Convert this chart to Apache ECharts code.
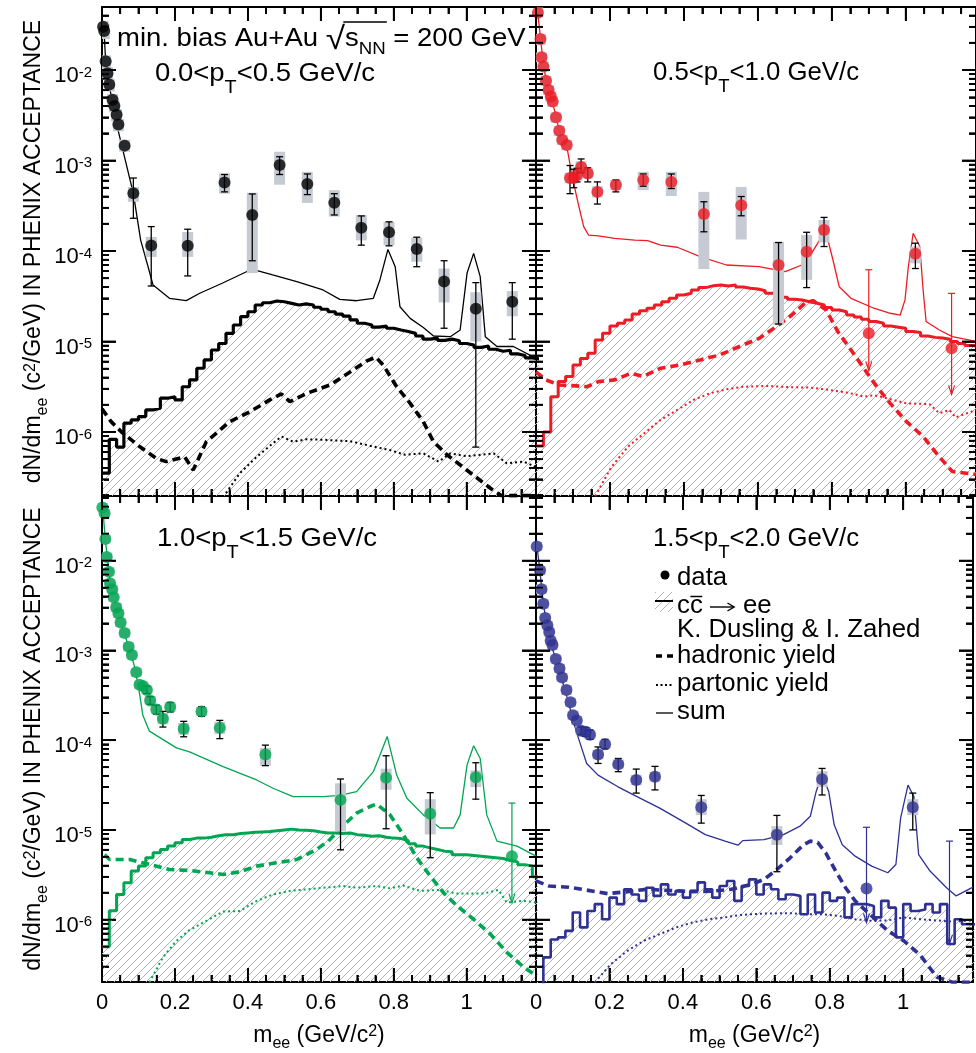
<!DOCTYPE html>
<html>
<head>
<meta charset="utf-8">
<script src="https://cdn.jsdelivr.net/npm/echarts@6.0.0/dist/echarts.min.js"></script>
<style>
html,body{margin:0;padding:0;background:#fff;}
#chart{width:976px;height:1053px;}
</style>
</head>
<body>
<div id="chart"></div>
<script>
// ---------------------------------------------------------------
// Dielectron mass spectra in four pT bins (min. bias Au+Au, 200 GeV)
// A: 0.0<pT<0.5, B: 0.5<pT<1.0, C: 1.0<pT<1.5, D: 1.5<pT<2.0 GeV/c
// ---------------------------------------------------------------

// histogram bin left edges (GeV/c^2), 0.02 wide
const binEdges = [0,0.02,0.04,0.06,0.08,0.10,0.12,0.14,0.16,0.18,0.20,0.22,0.24,0.26,0.28,0.30,0.32,0.34,0.36,0.38,
  0.40,0.42,0.44,0.46,0.48,0.50,0.52,0.54,0.56,0.58,0.60,0.62,0.64,0.66,0.68,0.70,0.72,0.74,0.76,0.78,
  0.80,0.82,0.84,0.86,0.88,0.90,0.92,0.94,0.96,0.98,1.00,1.02,1.04,1.06,1.08,1.10,1.12,1.14,1.16,1.18];
const binLastEdge = 1.20;

// ---------- panel A : 0.0<pT<0.5 ----------
const ptsA = [[0.003,0.030],[0.006,0.027],[0.010,0.0125],[0.015,0.0092],[0.020,0.0069],[0.029,0.0047],[0.034,0.0040],[0.040,0.0032],
  [0.045,0.0025],[0.062,0.00146],[0.086,4.35e-4],[0.135,1.15e-4],[0.235,1.14e-4],[0.336,5.7e-4],[0.412,2.5e-4],[0.487,8.9e-4],
  [0.563,5.5e-4],[0.637,3.42e-4],[0.711,1.81e-4],[0.787,1.61e-4],[0.863,1.05e-4],[0.938,4.6e-5],[1.025,2.3e-5],[1.125,2.75e-5]];
const statA = [null,null,null,null,null,null,null,null,null,null,[2.3e-4,6.4e-4],[4.1e-5,1.86e-4],[5.3e-5,1.74e-4],[4.5e-4,7.0e-4],
  [7.8e-5,4.27e-4],[7.0e-4,1.10e-3],[4.2e-4,7.1e-4],[2.5e-4,4.3e-4],[1.16e-4,2.44e-4],[1.14e-4,2.1e-4],[6.7e-5,1.42e-4],
  [1.4e-5,7.8e-5],[6.8e-7,4.47e-5],[1.06e-5,4.47e-5]];
const sysA = [[0.026,0.035],[0.022,0.032],[0.0105,0.0145],[0.0078,0.0108],[0.0058,0.0080],[0.0040,0.0054],[0.0034,0.0046],
  [0.0027,0.0037],[0.0021,0.0029],[0.00125,0.0017],[3.5e-4,5.1e-4],[8.6e-5,1.43e-4],[8.6e-5,1.62e-4],[4.3e-4,7.2e-4],
  [5.7e-5,4.4e-4],[5.4e-4,1.25e-3],[3.4e-4,7.5e-4],[2.4e-4,4.7e-4],[1.31e-4,2.5e-4],[1.16e-4,2.1e-4],[7.6e-5,1.4e-4],
  [2.7e-5,6.4e-5],[1.0e-5,3.5e-5],[1.9e-5,3.6e-5]];
const arrowsA = [];
const histA = [3.5e-7,8.3e-7,6.8e-7,1.25e-6,1.36e-6,1.48e-6,1.75e-6,1.83e-6,2.36e-6,2.45e-6,2.26e-6,3.16e-6,3.76e-6,5.06e-6,
  6.25e-6,8.05e-6,9.5e-6,1.23e-5,1.52e-5,1.88e-5,2.13e-5,2.53e-5,2.68e-5,2.8e-5,2.75e-5,2.64e-5,2.53e-5,2.6e-5,2.53e-5,2.39e-5,
  2.27e-5,2.13e-5,2.01e-5,1.91e-5,1.73e-5,1.59e-5,1.52e-5,1.44e-5,1.48e-5,1.40e-5,1.34e-5,1.29e-5,1.23e-5,1.15e-5,1.06e-5,
  1.09e-5,1.03e-5,1.06e-5,1.02e-5,9.5e-6,9.1e-6,8.6e-6,8.9e-6,8.2e-6,7.8e-6,8.0e-6,7.3e-6,7.0e-6,6.6e-6,6.4e-6];
const sumA = [[0.005,0.030],[0.010,0.0125],[0.020,0.0068],[0.030,0.0040],[0.045,0.00208],[0.086,4.3e-4],[0.106,1.32e-4],
  [0.125,7.0e-5],[0.140,4.2e-5],[0.185,3.0e-5],[0.231,2.83e-5],[0.268,3.41e-5],[0.331,4.43e-5],[0.396,5.9e-5],[0.413,6.28e-5],
  [0.468,5.43e-5],[0.534,4.58e-5],[0.606,3.71e-5],[0.652,2.92e-5],[0.698,2.82e-5],[0.744,3.0e-5],[0.762,4.79e-5],[0.784,1.04e-4],
  [0.804,6.7e-5],[0.817,2.42e-5],[0.845,1.80e-5],[0.881,1.43e-5],[0.909,1.15e-5],[0.955,1.13e-5],[0.982,1.34e-5],[1.001,5.7e-5],
  [1.019,9.4e-5],[1.037,5.2e-5],[1.051,1.13e-5],[1.083,8.8e-6],[1.128,8.8e-6],[1.19,6.5e-6]];
const hadA = [[0.0,1.8e-6],[0.025,1.30e-6],[0.057,9.7e-7],[0.103,6.9e-7],[0.149,5.1e-7],[0.176,4.7e-7],[0.227,5.3e-7],
  [0.250,3.8e-7],[0.286,7.8e-7],[0.350,1.30e-6],[0.405,1.67e-6],[0.460,2.26e-6],[0.492,2.63e-6],[0.515,2.16e-6],[0.561,2.67e-6],
  [0.625,3.3e-6],[0.680,4.6e-6],[0.726,6.1e-6],[0.751,6.7e-6],[0.771,5.5e-6],[0.808,3.16e-6],[0.845,2.07e-6],[0.881,1.30e-6],
  [0.909,7.8e-7],[0.946,5.6e-7],[1.0,3.8e-7],[1.065,2.39e-7],[1.095,1.98e-7],[1.19,1.98e-7]];
const partA = [[0.332,1.9e-7],[0.378,3.5e-7],[0.424,5.3e-7],[0.469,7.5e-7],[0.492,8.9e-7],[0.524,7.8e-7],[0.561,8.3e-7],
  [0.607,8.2e-7],[0.680,7.9e-7],[0.744,6.9e-7],[0.790,6.3e-7],[0.831,5.6e-7],[0.881,5.8e-7],[0.923,4.7e-7],[0.955,5.8e-7],
  [1.0,5.4e-7],[1.074,5.8e-7],[1.11,4.5e-7],[1.156,4.7e-7],[1.19,4.1e-7]];

// ---------- panel B : 0.5<pT<1.0 ----------
const ptsB = [[0.005,0.043],[0.012,0.022],[0.015,0.0138],[0.020,0.0109],[0.027,0.0076],[0.034,0.0060],[0.040,0.0051],[0.045,0.0045],
  [0.054,0.0030],[0.063,0.00213],[0.071,0.00169],[0.083,0.00148],[0.092,6.4e-4],[0.102,6.4e-4],[0.111,6.9e-4],[0.122,8.5e-4],
  [0.140,7.2e-4],[0.166,4.5e-4],[0.216,5.35e-4],[0.290,6.1e-4],[0.366,5.8e-4],[0.454,2.56e-4],[0.555,3.2e-4],[0.656,7.0e-5],
  [0.732,9.8e-5],[0.779,1.71e-4],[0.900,1.23e-5],[1.026,9.3e-5],[1.124,8.4e-6]];
const statB = [null,null,null,null,null,null,null,null,null,null,null,null,[4.3e-4,8.8e-4],[5.0e-4,8.0e-4],[5.8e-4,8.2e-4],
  [7.3e-4,1.04e-3],[5.8e-4,8.3e-4],[3.3e-4,5.8e-4],[4.5e-4,6.1e-4],[5.2e-4,7.1e-4],[4.9e-4,7.1e-4],[1.63e-4,3.5e-4],
  [2.45e-4,4.0e-4],[1.56e-5,1.24e-4],[3.94e-5,1.61e-4],[1.12e-4,2.35e-4],null,[6.4e-5,1.22e-4],null];
const sysB = [[0.038,0.049],[0.019,0.025],[0.0122,0.0156],[0.0096,0.0124],[0.0067,0.0086],[0.0053,0.0068],[0.0045,0.0058],
  [0.0039,0.0051],[0.0026,0.0034],[0.00187,0.00242],[0.00148,0.00192],[0.0013,0.00168],[5.6e-4,7.3e-4],[5.6e-4,7.3e-4],
  [6.0e-4,7.9e-4],[7.4e-4,9.8e-4],[6.3e-4,8.2e-4],[3.9e-4,5.2e-4],[4.7e-4,6.1e-4],[4.7e-4,7.5e-4],[4.05e-4,7.5e-4],
  [6.3e-5,4.5e-4],[1.34e-4,5.1e-4],[1.53e-5,1.26e-4],[4.8e-5,1.5e-4],[1.24e-4,2.2e-4],null,[7.3e-5,1.12e-4],null];
const arrowsB = [[0.900,6.2e-5,4.8e-6],[1.124,3.4e-5,2.6e-6]];
const histB = [7e-7,1.0e-6,2.45e-6,3.6e-6,4.1e-6,5.5e-6,6.5e-6,7.4e-6,1.04e-5,1.23e-5,1.48e-5,1.59e-5,1.73e-5,2.01e-5,2.19e-5,
  2.33e-5,2.53e-5,2.75e-5,3.0e-5,3.26e-5,3.41e-5,3.7e-5,3.94e-5,4.14e-5,4.21e-5,4.1e-5,4.21e-5,4.0e-5,3.88e-5,3.8e-5,3.64e-5,
  3.41e-5,3.26e-5,3.08e-5,2.92e-5,2.87e-5,2.75e-5,2.64e-5,2.53e-5,2.37e-5,2.23e-5,2.13e-5,1.96e-5,1.86e-5,1.76e-5,1.66e-5,
  1.59e-5,1.48e-5,1.44e-5,1.40e-5,1.29e-5,1.26e-5,1.15e-5,1.11e-5,1.09e-5,1.06e-5,1.0e-5,9.5e-6,9.0e-6,8.8e-6];
const sumB = [[0.003,0.050],[0.010,0.027],[0.020,0.0115],[0.030,0.0068],[0.040,0.0050],[0.050,0.0036],[0.060,0.0024],
  [0.070,0.0017],[0.083,0.00145],[0.098,6.6e-4],[0.116,3.1e-4],[0.129,1.86e-4],[0.142,1.50e-4],[0.169,1.47e-4],[0.213,1.38e-4],
  [0.267,1.32e-4],[0.302,1.30e-4],[0.337,1.16e-4],[0.382,1.10e-4],[0.444,8.65e-5],[0.515,7.0e-5],[0.603,6.7e-5],[0.674,5.9e-5],
  [0.719,7.0e-5],[0.745,9.4e-5],[0.767,1.32e-4],[0.779,1.94e-4],[0.803,8.0e-5],[0.820,4.03e-5],[0.852,3.0e-5],[0.914,2.33e-5],
  [0.958,2.05e-5],[0.985,1.96e-5],[0.998,2.88e-5],[1.007,6.7e-5],[1.020,1.57e-4],[1.038,1.12e-4],[1.047,3.7e-5],[1.055,1.66e-5],
  [1.091,1.34e-5],[1.126,1.13e-5],[1.19,1.0e-5]];
const hadB = [[0.0,4.6e-6],[0.027,3.76e-6],[0.063,3.3e-6],[0.098,3.25e-6],[0.138,3.16e-6],[0.169,3.6e-6],[0.213,3.76e-6],
  [0.257,4.45e-6],[0.289,4.1e-6],[0.337,5.06e-6],[0.390,5.5e-6],[0.444,6.25e-6],[0.497,7.1e-6],[0.550,8.8e-6],[0.603,1.08e-5],
  [0.656,1.52e-5],[0.692,1.96e-5],[0.727,2.64e-5],[0.749,2.83e-5],[0.785,2.23e-5],[0.816,1.29e-5],[0.852,8.05e-6],[0.896,4.45e-6],
  [0.922,3.16e-6],[0.958,2.07e-6],[1.002,1.30e-6],[1.047,8.9e-7],[1.091,5.3e-7],[1.126,3.65e-7],[1.19,3.4e-7]];
const partB = [[0.160,1.95e-7],[0.204,4.1e-7],[0.249,6.9e-7],[0.293,9.7e-7],[0.337,1.36e-6],[0.382,1.75e-6],[0.426,2.26e-6],
  [0.470,2.67e-6],[0.515,2.96e-6],[0.559,3.16e-6],[0.621,3.22e-6],[0.692,3.12e-6],[0.736,3.1e-6],[0.781,2.96e-6],[0.825,2.79e-6],
  [0.860,2.63e-6],[0.887,2.45e-6],[0.914,2.55e-6],[0.949,2.36e-6],[1.002,2.07e-6],[1.064,2.03e-6],[1.091,1.61e-6],[1.118,1.75e-6],
  [1.135,1.45e-6],[1.19,1.75e-6]];

// ---------- panel C : 1.0<pT<1.5 ----------
const ptsC = [[0.001,0.039],[0.007,0.0337],[0.009,0.0174],[0.013,0.011],[0.019,0.0075],[0.022,0.0056],[0.028,0.0048],[0.032,0.0039],
  [0.039,0.0030],[0.045,0.0026],[0.051,0.00204],[0.062,0.00156],[0.073,0.0011],[0.082,8.9e-4],[0.094,5.7e-4],[0.103,4.13e-4],
  [0.112,4.0e-4],[0.123,3.63e-4],[0.132,2.77e-4],[0.149,2.2e-4],[0.167,1.73e-4],[0.187,2.34e-4],[0.224,1.34e-4],[0.273,2.09e-4],
  [0.323,1.37e-4],[0.448,6.9e-5],[0.654,2.16e-5],[0.779,3.82e-5],[0.900,1.51e-5],[1.025,3.85e-5],[1.124,5.1e-6]];
const statC = [null,null,null,null,null,null,null,null,null,null,null,null,null,null,null,null,null,[3.3e-4,4.0e-4],[2.5e-4,3.05e-4],
  [1.95e-4,2.45e-4],[1.40e-4,2.09e-4],[2.06e-4,2.63e-4],[1.09e-4,1.62e-4],[1.84e-4,2.36e-4],[1.04e-4,1.66e-4],[5.2e-5,8.8e-5],
  [6.0e-6,3.69e-5],[1.03e-5,6.7e-5],[4.9e-6,2.6e-5],[2.2e-5,5.6e-5],null];
const sysC = [[0.035,0.044],[0.030,0.038],[0.0155,0.0195],[0.0098,0.0123],[0.0067,0.0084],[0.0050,0.0062],[0.0043,0.0054],
  [0.0035,0.0043],[0.0027,0.0034],[0.0023,0.0029],[0.00182,0.00228],[0.00139,0.00175],[0.00098,0.00123],[7.9e-4,1.0e-3],
  [5.1e-4,6.4e-4],[3.7e-4,4.6e-4],[3.6e-4,4.5e-4],[3.25e-4,4.05e-4],[2.5e-4,3.1e-4],[1.97e-4,2.45e-4],[1.5e-4,2.0e-4],
  [2.05e-4,2.65e-4],[1.15e-4,1.55e-4],[1.85e-4,2.35e-4],[1.17e-4,1.6e-4],[5.2e-5,8.2e-5],[9.6e-6,3.3e-5],[2.8e-5,4.8e-5],
  [8.9e-6,2.2e-5],[3.0e-5,4.6e-5],null];
const arrowsC = [[1.124,1.99e-5,1.55e-6]];
const histC = [5e-7,1.26e-6,1.91e-6,2.58e-6,3.48e-6,3.95e-6,4.89e-6,5.55e-6,6.04e-6,6.6e-6,7.2e-6,7.8e-6,8.1e-6,8.1e-6,8.3e-6,
  8.6e-6,8.85e-6,8.85e-6,9.1e-6,9.25e-6,9.4e-6,9.5e-6,9.6e-6,9.8e-6,1.0e-5,1.02e-5,1.0e-5,9.9e-6,9.8e-6,9.5e-6,9.25e-6,9.25e-6,
  9.1e-6,9.25e-6,8.85e-6,8.7e-6,8.5e-6,8.6e-6,8.3e-6,8.1e-6,8.0e-6,7.6e-6,7.0e-6,6.6e-6,6.3e-6,6.05e-6,5.8e-6,5.7e-6,5.3e-6,
  5.3e-6,5.2e-6,5.1e-6,5.0e-6,4.9e-6,4.8e-6,4.56e-6,4.4e-6,4.1e-6,3.95e-6,3.0e-6];
const sumC = [[0.002,0.038],[0.010,0.016],[0.020,0.0068],[0.030,0.0043],[0.040,0.0029],[0.050,0.0021],[0.060,0.0016],
  [0.070,0.0012],[0.080,9.0e-4],[0.090,6.4e-4],[0.103,3.28e-4],[0.112,1.89e-4],[0.130,1.26e-4],[0.163,1.04e-4],[0.204,8.2e-5],
  [0.240,7.4e-5],[0.332,5.06e-5],[0.424,3.6e-5],[0.469,2.91e-5],[0.524,2.35e-5],[0.607,2.35e-5],[0.652,2.42e-5],[0.698,2.67e-5],
  [0.744,4.45e-5],[0.762,6.8e-5],[0.782,1.10e-4],[0.808,4.08e-5],[0.836,2.25e-5],[0.881,1.47e-5],[0.927,1.05e-5],[0.964,1.05e-5],
  [0.982,1.47e-5],[1.001,5.3e-5],[1.019,8.65e-5],[1.037,6.25e-5],[1.055,1.47e-5],[1.083,7.5e-6],[1.138,6.6e-6],[1.19,5.1e-6]];
const hadC = [[0.007,5.3e-6],[0.021,4.68e-6],[0.076,4.68e-6],[0.130,4.12e-6],[0.185,3.62e-6],[0.240,3.53e-6],[0.295,3.33e-6],
  [0.332,3.19e-6],[0.378,3.42e-6],[0.424,3.95e-6],[0.478,4.3e-6],[0.534,4.68e-6],[0.588,6.04e-6],[0.625,7.8e-6],[0.662,1.12e-5],
  [0.698,1.54e-5],[0.735,1.82e-5],[0.753,1.94e-5],[0.790,1.47e-5],[0.826,8.85e-6],[0.863,4.89e-6],[0.900,3.06e-6],[0.936,2.0e-6],
  [0.973,1.43e-6],[1.019,1.01e-6],[1.065,6.9e-7],[1.110,4.33e-7],[1.156,2.96e-7],[1.19,2.39e-7]];
const partC = [[0.130,2.0e-7],[0.167,3.8e-7],[0.204,5.8e-7],[0.240,7.65e-7],[0.286,9.7e-7],[0.332,1.23e-6],[0.378,1.25e-6],
  [0.424,1.62e-6],[0.469,1.91e-6],[0.515,2.09e-6],[0.588,2.23e-6],[0.662,2.37e-6],[0.698,2.27e-6],[0.753,2.37e-6],[0.790,2.23e-6],
  [0.826,2.4e-6],[0.872,2.09e-6],[0.927,2.15e-6],[0.973,1.95e-6],[1.046,1.95e-6],[1.087,2.15e-6],[1.110,1.55e-6],[1.156,1.62e-6],
  [1.19,1.55e-6]];

// ---------- panel D : 1.5<pT<2.0 ----------
const ptsD = [[0.002,0.0144],[0.011,0.0078],[0.015,0.0048],[0.020,0.0033],[0.025,0.0023],[0.031,0.0019],[0.036,0.0016],
  [0.040,0.00128],[0.045,0.00115],[0.054,8.0e-4],[0.064,6.3e-4],[0.071,5.0e-4],[0.083,3.63e-4],[0.094,2.65e-4],[0.101,1.89e-4],
  [0.111,1.66e-4],[0.123,1.27e-4],[0.135,1.24e-4],[0.147,1.15e-4],[0.169,6.9e-5],[0.188,9.0e-5],[0.224,5.4e-5],[0.273,3.6e-5],
  [0.324,3.92e-5],[0.450,1.79e-5],[0.656,8.85e-6],[0.779,3.66e-5],[0.900,2.23e-6],[1.026,1.79e-5]];
const statD = [null,null,null,null,null,null,null,null,null,null,null,null,null,null,null,null,[1.15e-4,1.4e-4],[1.1e-4,1.38e-4],
  [1.02e-4,1.3e-4],[5.5e-5,8.4e-5],[8.0e-5,1.02e-4],[4.45e-5,6.25e-5],[2.57e-5,4.76e-5],[2.79e-5,5.1e-5],[1.19e-5,2.42e-5],
  [3.42e-6,1.45e-5],[2.45e-5,4.84e-5],null,[1.0e-5,2.57e-5]];
const sysD = [[0.0128,0.0162],[0.0069,0.0087],[0.0043,0.0054],[0.0029,0.0037],[0.00205,0.0026],[0.0017,0.00213],[0.00143,0.0018],
  [0.00114,0.00143],[0.00102,0.00129],[7.1e-4,9.0e-4],[5.6e-4,7.1e-4],[4.45e-4,5.6e-4],[3.2e-4,4.1e-4],[2.35e-4,2.97e-4],
  [1.68e-4,2.12e-4],[1.48e-4,1.86e-4],[1.13e-4,1.42e-4],[1.1e-4,1.39e-4],[1.02e-4,1.29e-4],[6.1e-5,7.8e-5],[8.0e-5,1.01e-4],
  [4.8e-5,6.1e-5],[3.15e-5,4.1e-5],[3.45e-5,4.45e-5],[1.46e-5,2.2e-5],[6.8e-6,1.1e-5],[3.0e-5,4.5e-5],null,[1.46e-5,2.2e-5]];
const arrowsD = [[0.900,1.07e-5,9.3e-7],[1.126,7.5e-6,5.4e-7]];
const histD = [1.5e-7,3.8e-7,6e-7,6.35e-7,7.5e-7,1.2e-6,8.2e-7,1.25e-6,1.49e-6,1.01e-6,1.76e-6,1.49e-6,2.18e-6,1.91e-6,1.62e-6,
  2.27e-6,1.84e-6,2.47e-6,1.91e-6,2.09e-6,1.76e-6,2.09e-6,2.6e-6,2.18e-6,1.76e-6,2.37e-6,2.7e-6,1.62e-6,2.37e-6,2.81e-6,1.91e-6,
  2.47e-6,2.18e-6,1.69e-6,1.91e-6,1.84e-6,1.15e-6,1.91e-6,1.2e-6,2.0e-6,1.62e-6,1.76e-6,1.06e-6,1.49e-6,1.49e-6,1.42e-6,1.06e-6,
  1.62e-6,1.36e-6,6.35e-7,1.49e-6,1.25e-6,1.3e-6,1.49e-6,1.2e-6,1.49e-6,5.36e-7,1.01e-6,8.9e-7,8.9e-7];
const sumD = [[0.003,0.014],[0.010,0.0082],[0.020,0.0033],[0.030,0.0019],[0.040,0.00125],[0.050,8.8e-4],[0.060,6.5e-4],
  [0.070,4.8e-4],[0.080,3.5e-4],[0.090,2.5e-4],[0.100,1.7e-4],[0.116,1.04e-4],[0.138,5.5e-5],[0.169,4.08e-5],[0.222,3.04e-5],
  [0.275,2.35e-5],[0.337,1.75e-5],[0.408,1.19e-5],[0.461,8.85e-6],[0.515,7.5e-6],[0.550,6.75e-6],[0.563,7.6e-6],[0.621,7.8e-6],
  [0.674,8.85e-6],[0.719,1.10e-5],[0.747,1.42e-5],[0.763,2.68e-5],[0.779,4.2e-5],[0.797,2.68e-5],[0.812,1.14e-5],[0.834,6.85e-6],
  [0.869,5.1e-6],[0.914,3.95e-6],[0.958,3.33e-6],[0.980,4.12e-6],[0.993,1.36e-5],[1.013,3.16e-5],[1.029,2.35e-5],[1.042,5.3e-6],
  [1.073,3.48e-6],[1.118,2.27e-6],[1.144,1.84e-6],[1.19,2.3e-6]];
const hadD = [[0.0,2.7e-6],[0.036,2.37e-6],[0.089,2.3e-6],[0.142,2.12e-6],[0.195,1.95e-6],[0.249,2.05e-6],[0.302,2.18e-6],
  [0.355,2.12e-6],[0.426,2.05e-6],[0.479,2.08e-6],[0.532,2.18e-6],[0.586,2.47e-6],[0.621,2.81e-6],[0.656,3.62e-6],[0.692,4.89e-6],
  [0.727,6.75e-6],[0.747,7.5e-6],[0.767,7.25e-6],[0.789,5.55e-6],[0.816,3.48e-6],[0.843,2.27e-6],[0.869,1.62e-6],[0.914,1.1e-6],
  [0.958,7.5e-7],[1.002,5.8e-7],[1.047,4.0e-7],[1.091,2.3e-7],[1.135,2.0e-7],[1.19,2.0e-7]];
const partD = [[0.160,2.0e-7],[0.204,3.2e-7],[0.249,4.5e-7],[0.293,5.8e-7],[0.337,6.9e-7],[0.382,8.2e-7],[0.426,9.3e-7],
  [0.470,1.01e-6],[0.515,1.06e-6],[0.559,1.13e-6],[0.621,1.17e-6],[0.692,1.18e-6],[0.736,1.15e-6],[0.781,1.15e-6],[0.825,1.1e-6],
  [0.869,1.01e-6],[0.914,9.7e-7],[0.958,9.8e-7],[1.002,1.06e-6],[1.047,1.01e-6],[1.091,9.8e-7],[1.135,9.5e-7],[1.19,9.8e-7]];

// ---------------------------------------------------------------
// layout and styling
// ---------------------------------------------------------------
const FONT = '"Liberation Sans", Arial, Helvetica, sans-serif';
const BOX_GREY = '#c6cad3';

const PANELS = [
  {box:[102,7,434,489],  xMax:1.19, yRange:[1.96e-7,0.0497], color:'#000000', histWidth:3.2, yLabels:true,  xLabels:false,
   pts:ptsA, stat:statA, sys:sysA, arrows:arrowsA, hist:histA, sum:sumA, had:hadA, part:partA},
  {box:[536,7,448,489],  xMax:1.19, yRange:[1.96e-7,0.0497], color:'#ed1c24', histWidth:3,   yLabels:false, xLabels:false,
   pts:ptsB, stat:statB, sys:sysB, arrows:arrowsB, hist:histB, sum:sumB, had:hadB, part:partB},
  {box:[102,496,434,489],xMax:1.19, yRange:[2.02e-7,0.0525], color:'#00a651', histWidth:3,   yLabels:true,  xLabels:true,
   pts:ptsC, stat:statC, sys:sysC, arrows:arrowsC, hist:histC, sum:sumC, had:hadC, part:partC},
  {box:[536,496,448,489],xMax:1.19, yRange:[2.02e-7,0.0525], color:'#2e3192', histWidth:2.6, yLabels:false, xLabels:true,
   pts:ptsD, stat:statD, sys:sysD, arrows:arrowsD, hist:histD, sum:sumD, had:hadD, part:partD}
];

// diagonal hatching used under the charm histograms
function makeHatch() {
  const c = document.createElement('canvas');
  c.width = 8; c.height = 8;
  const g = c.getContext('2d');
  g.strokeStyle = '#b3b3b3';
  g.lineWidth = 1;
  g.beginPath();
  g.moveTo(0, 8); g.lineTo(8, 0);
  g.moveTo(-2, 2); g.lineTo(2, -2);
  g.moveTo(6, 10); g.lineTo(10, 6);
  g.stroke();
  return c;
}
const hatch = makeHatch();

function renderBox(params, api) {
  const lo = api.coord([api.value(0), api.value(1)]);
  const hi = api.coord([api.value(0), api.value(2)]);
  return {type:'rect', shape:{x: lo[0] - 5.5, y: hi[1], width: 11, height: lo[1] - hi[1]}, style:{fill: BOX_GREY}};
}

function renderErr(params, api) {
  const x = api.value(0);
  const lo = api.coord([x, api.value(1)]);
  const hi = api.coord([x, api.value(2)]);
  const st = {stroke:'#000', lineWidth:1.3};
  return {type:'group', children:[
    {type:'line', shape:{x1:hi[0], y1:hi[1], x2:lo[0], y2:lo[1]}, style:st},
    {type:'line', shape:{x1:hi[0]-3.5, y1:hi[1], x2:hi[0]+3.5, y2:hi[1]}, style:st},
    {type:'line', shape:{x1:lo[0]-3.5, y1:lo[1], x2:lo[0]+3.5, y2:lo[1]}, style:st}
  ]};
}

function renderArrow(color) {
  return function (params, api) {
    const x = api.value(0);
    const hi = api.coord([x, api.value(1)]);
    const lo = api.coord([x, api.value(2)]);
    const st = {stroke:color, lineWidth:1.2, fill:null};
    return {type:'group', children:[
      {type:'line', shape:{x1:hi[0], y1:hi[1], x2:lo[0], y2:lo[1]}, style:st},
      {type:'line', shape:{x1:hi[0]-3.5, y1:hi[1], x2:hi[0]+3.5, y2:hi[1]}, style:st},
      {type:'polyline', shape:{points:[[lo[0]-3, lo[1]-9], [lo[0], lo[1]], [lo[0]+3, lo[1]-9]]}, style:st}
    ]};
  };
}

// inward frame ticks drawn as short error-bar-like marks on a custom series:
// every 0.05 in mass (long at multiples of 0.2), 1..9 x each decade (long at 1)
function tickItems(p) {
  const out = [];
  for (let k = 0; k * 0.05 <= p.xMax + 1e-9; k++) out.push([k * 0.05, p.yRange[0], p.yRange[1], k % 4 === 0 ? 14 : 7, 0]);
  for (let e = -7; e <= -1; e++) {
    for (let m = 1; m <= 9; m++) {
      const v = m * Math.pow(10, e);
      if (v > p.yRange[0] && v < p.yRange[1]) out.push([0, v, v, m === 1 ? 14 : 7, 1]);
    }
  }
  return out;
}
function renderFrameTicks(p) {
  return function (params, api) {
    const len = api.value(3);
    const st = {stroke:'#000', lineWidth:1.8};
    if (api.value(4) === 0) {
      const x = api.value(0);
      const bot = api.coord([x, api.value(1)]);
      const top = api.coord([x, api.value(2)]);
      return {type:'group', children:[
        {type:'line', shape:{x1:bot[0], y1:bot[1], x2:bot[0], y2:bot[1] - len}, style:st},
        {type:'line', shape:{x1:top[0], y1:top[1], x2:top[0], y2:top[1] + len}, style:st}
      ]};
    }
    const l = api.coord([0, api.value(1)]);
    const r = api.coord([p.xMax, api.value(1)]);
    return {type:'group', children:[
      {type:'line', shape:{x1:l[0], y1:l[1], x2:l[0] + len, y2:l[1]}, style:st},
      {type:'line', shape:{x1:r[0], y1:r[1], x2:r[0] - len, y2:r[1]}, style:st}
    ]};
  };
}

const series = [];
PANELS.forEach((p, i) => {
  const ax = {xAxisIndex:i, yAxisIndex:i};
  const histData = binEdges.map((x, k) => [x, p.hist[k]]);
  histData.push([binLastEdge, p.hist[p.hist.length - 1]]);
  series.push(Object.assign({type:'line', step:'end', data:histData, symbol:'none', z:1, clip:true,
    lineStyle:{color:p.color, width:p.histWidth}, areaStyle:{color:{image:hatch, repeat:'repeat'}, origin:'start', opacity:1}}, ax));
  series.push(Object.assign({type:'line', data:p.part, symbol:'none', z:2, clip:true,
    lineStyle:{color:p.color, width:2, type:[2, 3]}}, ax));
  series.push(Object.assign({type:'line', data:p.had, symbol:'none', z:2, clip:true,
    lineStyle:{color:p.color, width:3.6, type:[8, 5]}}, ax));
  series.push(Object.assign({type:'line', data:p.sum, symbol:'none', z:2, clip:true,
    lineStyle:{color:p.color, width:1.3}}, ax));
  series.push(Object.assign({type:'custom', renderItem:renderBox, z:3, clip:true,
    data:p.pts.map((q, k) => p.sys[k] ? [q[0], p.sys[k][0], p.sys[k][1]] : null).filter(Boolean)}, ax));
  series.push(Object.assign({type:'custom', renderItem:renderErr, z:4, clip:true,
    data:p.pts.map((q, k) => p.stat[k] ? [q[0], p.stat[k][0], p.stat[k][1]] : null).filter(Boolean)}, ax));
  series.push(Object.assign({type:'custom', renderItem:renderArrow(p.color), z:4, clip:true, data:p.arrows}, ax));
  series.push(Object.assign({type:'scatter', data:p.pts, symbol:'circle', symbolSize:12, z:5,
    itemStyle:{color:p.color, borderWidth:0}}, ax));
  series.push(Object.assign({type:'custom', renderItem:renderFrameTicks(p), z:6, data:tickItems(p)}, ax));
});

const tickRich = {
  b:{fontFamily:FONT, fontSize:22, lineHeight:26, verticalAlign:'top', padding:[8,0,0,0], color:'#000'},
  s:{fontFamily:FONT, fontSize:15, lineHeight:12, verticalAlign:'top', padding:[8,0,0,0], color:'#000'}
};
const nameRich = {
  n:{fontFamily:FONT, fontSize:23, lineHeight:27, verticalAlign:'top', color:'#000'},
  sub:{fontFamily:FONT, fontSize:16, lineHeight:18, verticalAlign:'top', padding:[12,0,0,0], color:'#000'},
  sup:{fontFamily:FONT, fontSize:16, lineHeight:12, verticalAlign:'top', color:'#000'}
};

// panel frame = the four axis lines, with the axes' own inward ticks as well
const FRAME_LINE = {show:true, onZero:false, lineStyle:{color:'#000', width:2}};
const TICK_LINE = {color:'#000', width:1.8};
const majorTick = {show:true, inside:true, length:14, lineStyle:TICK_LINE};
const minorX = {show:true, splitNumber:4, length:7, lineStyle:TICK_LINE};
const minorY = {show:true, splitNumber:9, length:7, lineStyle:TICK_LINE};

function xLabelFmt(v) {
  const k = Math.round(v / 0.2);
  if (Math.abs(v - k * 0.2) > 1e-6) return '';
  if (k === 0) return '0';
  if (k === 5) return '1';
  return (k * 0.2).toFixed(1);
}
function yLabelFmt(v) {
  const e = Math.log10(v), r = Math.round(e);
  if (Math.abs(e - r) > 1e-6) return '';
  return '{b|10}{s|' + r + '}';
}

const xAxes = [], yAxes = [];
PANELS.forEach((p, i) => {
  xAxes.push({
    gridIndex:i, type:'value', position:'bottom', min:0, max:p.xMax, interval:0.2,
    axisLine:FRAME_LINE, axisTick:majorTick, minorTick:minorX, splitLine:{show:false},
    axisLabel:{show:p.xLabels, fontFamily:FONT, fontSize:22, color:'#000', margin:10, formatter:xLabelFmt},
    name: p.xLabels ? '{n|m}{sub|ee}{n| (GeV/c}{sup|2}{n|)}' : '',
    nameLocation:'middle', nameGap:42, nameTextStyle:{rich:nameRich}
  });
  yAxes.push({
    gridIndex:i, type:'log', logBase:10, position:'left', min:p.yRange[0], max:p.yRange[1],
    axisLine:FRAME_LINE, axisTick:majorTick, minorTick:minorY, splitLine:{show:false},
    axisLabel:{show:p.yLabels, margin:10, rich:tickRich, formatter:yLabelFmt},
    name: p.yLabels ? '{n|dN/dm}{sub|ee}{n| (c}{sup|2}{n|/GeV) IN PHENIX ACCEPTANCE}' : '',
    nameLocation:'middle', nameRotate:90, nameGap:47, nameTextStyle:{rich:nameRich}
  });
});
PANELS.forEach((p, i) => {
  xAxes.push({gridIndex:i, type:'value', position:'top', min:0, max:p.xMax, interval:0.2,
    axisLine:FRAME_LINE, axisTick:majorTick, minorTick:minorX, splitLine:{show:false}, axisLabel:{show:false}});
  yAxes.push({gridIndex:i, type:'log', logBase:10, position:'right', min:p.yRange[0], max:p.yRange[1],
    axisLine:FRAME_LINE, axisTick:majorTick, minorTick:minorY, splitLine:{show:false}, axisLabel:{show:false}});
});

const option = {
  animation:false,
  backgroundColor:'#ffffff',
  textStyle:{fontFamily:FONT},
  grid: PANELS.map(p => ({left:p.box[0], top:p.box[1], width:p.box[2], height:p.box[3], show:false})),
  xAxis: xAxes,
  yAxis: yAxes,
  series: series
};

// ---------------------------------------------------------------
// annotation text and legend
// ---------------------------------------------------------------
const graphics = [];
function seg(x1, y1, x2, y2, w, color, dash) {
  const st = {stroke:color || '#000', lineWidth:w};
  if (dash) st.lineDash = dash;
  return {type:'line', z:10, silent:true, shape:{x1:x1, y1:y1, x2:x2, y2:y2}, style:st};
}
const measureCtx = document.createElement('canvas').getContext('2d');
function textWidth(str, size) {
  measureCtx.font = size + 'px ' + FONT;
  return measureCtx.measureText(str).width;
}
function txt(x, y, str, size) {
  return {type:'text', x:x, y:y, z:10, silent:true,
    style:{text:str, font:size + 'px ' + FONT, fill:'#000', verticalAlign:'middle', textVerticalAlign:'middle', align:'left'}};
}
function ptLabel(x, yCenter, lo, hi, stretch) {
  return {type:'text', x:x, y:yCenter - 14, scaleX:stretch, z:10, silent:true, style:{
    text:'{a|' + lo + '<p}{s|T}{a|<' + hi + ' GeV/c}', verticalAlign:'top', textVerticalAlign:'top',
    rich:{
      a:{fontFamily:FONT, fontSize:25, lineHeight:28, verticalAlign:'top', fill:'#000', color:'#000'},
      s:{fontFamily:FONT, fontSize:18, lineHeight:20, verticalAlign:'top', padding:[17,0,0,0], fill:'#000', color:'#000'}
    }}};
}

// collision system label with square-root sign
(function () {
  const yc = 39, fs = 25;
  const t1 = 'min. bias Au+Au ';
  const w1 = textWidth(t1, fs);
  const wr = textWidth('\u221A', 32);
  const ws = textWidth('s', fs);
  const wn = textWidth('NN', 17);
  const kids = [
    txt(0, yc, t1, fs),
    txt(w1, yc + 1, '\u221A', 32),
    txt(w1 + wr, yc, 's', fs),
    txt(w1 + wr + ws, yc + 10, 'NN', 17),
    txt(w1 + wr + ws + wn, yc, ' = 200 GeV', fs),
    seg(w1 + wr - 1.5, yc - 17, w1 + wr + ws + wn + 1, yc - 17, 1.3)
  ];
  graphics.push({type:'group', x:117, y:0, scaleX:1.1, children:kids});
})();

graphics.push(ptLabel(155, 76, '0.0', '0.5', 1.1));
graphics.push(ptLabel(653, 75, '0.5', '1.0', 1.03));
graphics.push(ptLabel(157, 541, '1.0', '1.5', 1.1));
graphics.push(ptLabel(653, 541, '1.5', '2.0', 1.03));

// legend block
(function () {
  const tx = 677, fs = 25;
  const kids = [];
  graphics.push({type:'circle', z:10, silent:true, shape:{cx:665, cy:575, r:4.5}, style:{fill:'#000'}});
  graphics.push({type:'rect', z:10, silent:true, shape:{x:655, y:592, width:18, height:20},
    style:{fill:{image:hatch, repeat:'repeat'}}});
  graphics.push(seg(655, 601, 673, 601, 2));
  graphics.push(seg(656, 656, 662, 656, 3.5));
  graphics.push(seg(667, 656, 673, 656, 3.5));
  graphics.push(seg(656, 685, 673, 685, 2, '#000', [2, 2.5]));
  graphics.push(seg(656, 713, 673, 713, 1.3));

  const wc = textWidth('c', fs);
  kids.push(txt(0, 578, 'data', fs));
  kids.push(txt(0, 606, 'cc', fs));
  kids.push(seg(wc + 0.5, 596.5, 2 * wc - 0.5, 596.5, 1.5));
  // reaction arrow
  kids.push(seg(32, 607, 55, 607, 1.4));
  kids.push({type:'polyline', z:10, silent:true, shape:{points:[[49, 603], [55.5, 607], [49, 611]]},
    style:{stroke:'#000', lineWidth:1.4, fill:null}});
  kids.push(txt(64, 606, 'ee', fs));
  kids.push(txt(0, 630, 'K. Dusling & I. Zahed', fs));
  kids.push(txt(0, 656, 'hadronic yield', fs));
  kids.push(txt(0, 684, 'partonic yield', fs));
  kids.push(txt(0, 712, 'sum', fs));
  graphics.push({type:'group', x:tx, y:0, scaleX:1.03, children:kids});
})();

option.graphic = {elements: graphics};

const chart = echarts.init(document.getElementById('chart'), null, {renderer:'canvas'});
chart.setOption(option);
</script>
</body>
</html>
